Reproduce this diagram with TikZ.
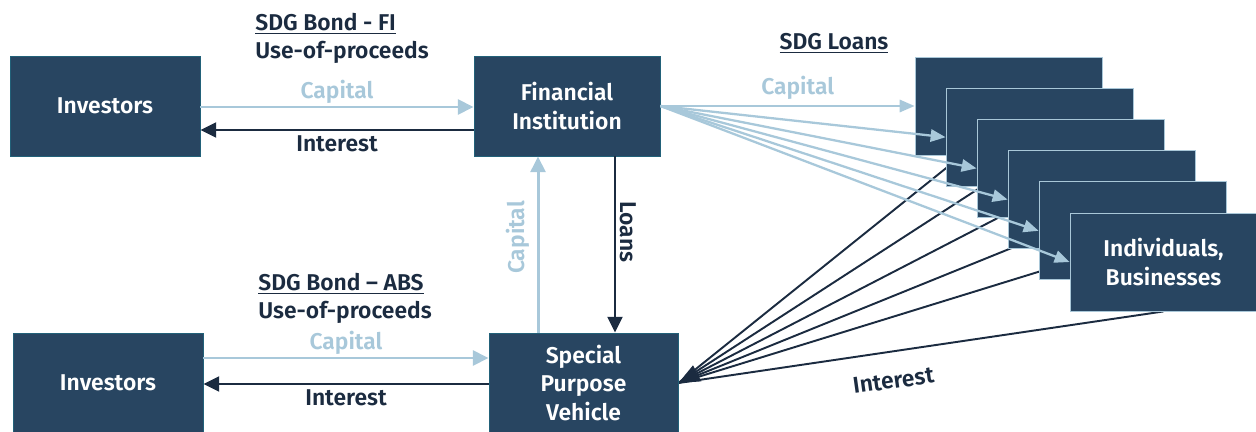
\documentclass[tikz,border=0pt]{standalone}
\usepackage{fontspec}
\setmainfont{Fira Sans}[BoldFont=Fira Sans SemiBold]
\usetikzlibrary{arrows.meta,calc,backgrounds}

\definecolor{boxblue}{HTML}{284561}
\definecolor{edgeblue}{HTML}{A9C7D8}
\definecolor{capblue}{HTML}{A8C8DA}
\definecolor{navy}{HTML}{1B2B40}

\tikzset{
  party/.style={fill=boxblue, draw=boxblue!85!cyan, line width=0.5pt, text=white,
    font=\bfseries\fontsize{13}{16}\selectfont, align=center,
    minimum height=2cm, inner sep=0pt},
  stackbox/.style={party, draw=edgeblue, minimum width=3.74cm, minimum height=1.96cm},
  note/.style={text=navy, font=\bfseries\fontsize{13}{16}\selectfont, align=left, inner sep=0pt},
  capital/.style={draw=capblue, line width=1.7pt, -{Triangle[length=9pt,width=8.5pt]}},
  interest/.style={draw=navy, line width=1.4pt, -{Triangle[length=9pt,width=8.5pt]}},
  capline/.style={draw=capblue, line width=1.3pt, -{Triangle[length=8.5pt,width=7pt]}},
  intline/.style={draw=navy, line width=1.1pt},
  caplabel/.style={text=capblue, font=\bfseries\fontsize{13}{16}\selectfont, inner sep=1pt},
  intlabel/.style={text=navy, font=\bfseries\fontsize{13}{16}\selectfont, inner sep=2.5pt}
}

\begin{document}
\begin{tikzpicture}[x=0.02cm, y=-0.02cm]
  \useasboundingbox (0,0) rectangle (1256,432);

  % SDG Bond - FI
  \node[party, minimum width=3.8cm] (inv1) at (105,106) {Investors};
  \node[party, minimum width=3.72cm] (fi) at (567,106) {Financial\\Institution};
  \node[note, anchor=north west] (fititle) at (255,13) {\underline{SDG Bond - FI}\\Use-of-proceeds};

  \draw[capital] ([shift={(0,1)}]inv1.east) -- ([shift={(0,1)}]fi.west)
    node[midway, above, caplabel] {Capital};
  \draw[interest] ([shift={(0,24)}]fi.west) -- ([shift={(0,24)}]inv1.east)
    node[midway, below, intlabel] {Interest};

  % SDG Bond - ABS
  \node[party, minimum width=3.8cm] (inv2) at (108,383) {Investors};
  \node[party, minimum width=3.78cm] (spv) at (583.5,383) {Special\\Purpose\\Vehicle};
  \node[note, anchor=north west] (abstitle) at (258,273) {\underline{SDG Bond -- ABS}\\Use-of-proceeds};

  \draw[capital] ([shift={(0,-25)}]inv2.east) -- ([shift={(0,-25)}]spv.west)
    node[midway, above, caplabel] {Capital};
  \draw[interest] ([shift={(0,1)}]spv.west) -- ([shift={(0,1)}]inv2.east)
    node[midway, below, intlabel] {Interest};

  % between FI and SPV
  \coordinate (capfoot) at ($(spv.north)+(-45.5,0)$);
  \coordinate (loanstop) at ($(fi.south)+(48,0)$);
  \draw[capital] (capfoot) -- (capfoot |- fi.south)
    node[pos=0.54, anchor=south, rotate=90, caplabel, inner sep=4pt] {Capital};
  \draw[interest] (loanstop) -- (loanstop |- spv.north)
    node[pos=0.43, anchor=south, rotate=-90, intlabel, inner sep=2pt] {Loans};

  % SDG Loans
  \node[note, anchor=north] (loanstitle) at (834,33) {\underline{SDG Loans}};
  \foreach \i in {1,...,5}
    \node[stackbox] (b\i) at ({1008.5+31*(\i-1)},{106+31.2*(\i-1)}) {};
  \node[stackbox] (b6) at (1163.5,262) {Individuals,\\Businesses};

  \begin{scope}[on background layer]
    \foreach \i in {1,2,4,5}
      \draw[intline] ($(b\i.center)+(0,12)$) -- (spv.east);
    \draw[intline, -{Triangle[length=12pt,width=10pt]}] ($(b3.center)+(0,12)$) -- (spv.east);
    \draw[intline] (b6.south) -- (spv.east)
      node[pos=0.565, rotate=8, yshift=-0.58cm, intlabel] {Interest};
  \end{scope}

  \draw[capline] (fi.east) -- (b1.west) node[pos=0.54, above, caplabel, inner sep=3pt] {Capital};
  \foreach \i in {2,...,6}
    \draw[capline] (fi.east) -- (b\i.west);
\end{tikzpicture}
\end{document}
